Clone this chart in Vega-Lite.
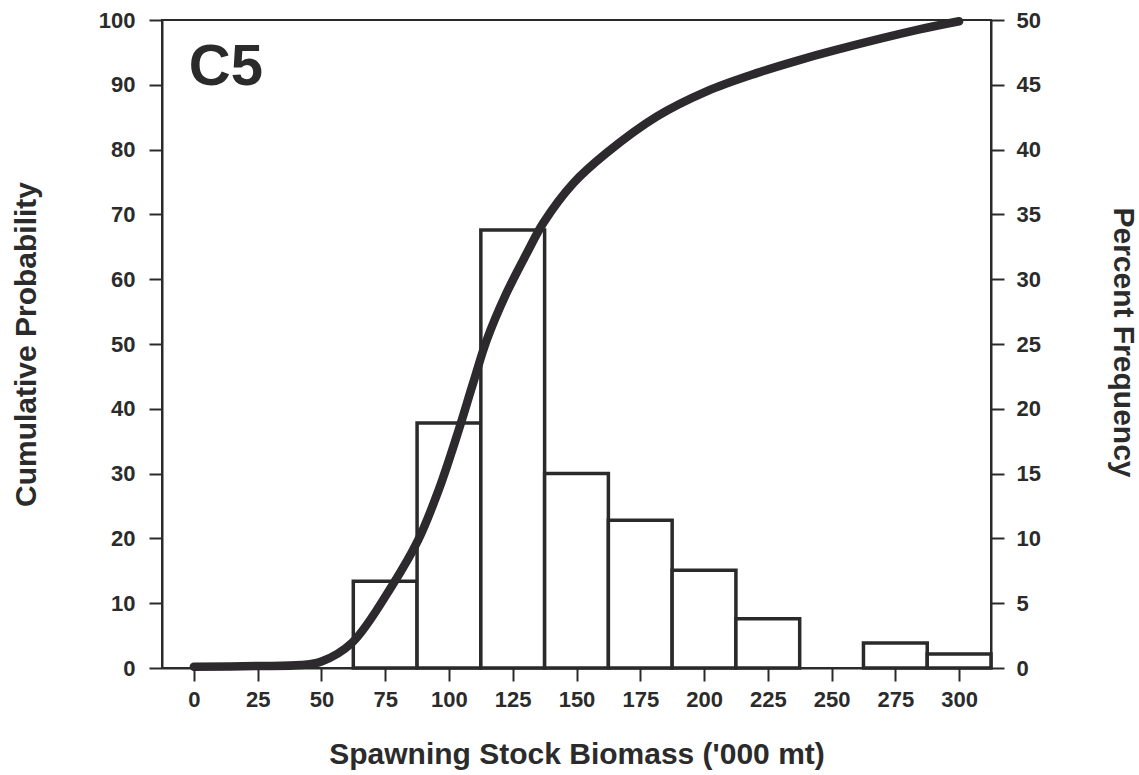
{
  "$schema": "https://vega.github.io/schema/vega-lite/v6.json",
  "width": 829,
  "height": 648,
  "autosize": {"type": "none"},
  "padding": {"left": 162, "top": 20, "right": 148, "bottom": 107},
  "background": "white",
  "config": {
    "view": {"stroke": "#2a2a2a", "strokeWidth": 2},
    "font": "Liberation Sans",
    "axis": {
      "labelFont": "Liberation Sans",
      "titleFont": "Liberation Sans",
      "labelFontWeight": "bold",
      "titleFontWeight": "bold",
      "labelColor": "#2b2b2b",
      "titleColor": "#2b2b2b",
      "labelFontSize": 22,
      "titleFontSize": 30,
      "domainColor": "#2a2a2a",
      "domainWidth": 2,
      "tickColor": "#2a2a2a",
      "tickWidth": 2,
      "tickSize": 13,
      "grid": false
    }
  },
  "datasets": {
    "hist": [
      {"bin_start": 62.5, "bin_end": 87.5, "percent": 6.7},
      {"bin_start": 87.5, "bin_end": 112.5, "percent": 18.9},
      {"bin_start": 112.5, "bin_end": 137.5, "percent": 33.8},
      {"bin_start": 137.5, "bin_end": 162.5, "percent": 15.0},
      {"bin_start": 162.5, "bin_end": 187.5, "percent": 11.4},
      {"bin_start": 187.5, "bin_end": 212.5, "percent": 7.55},
      {"bin_start": 212.5, "bin_end": 237.5, "percent": 3.8},
      {"bin_start": 262.5, "bin_end": 287.5, "percent": 1.93},
      {"bin_start": 287.5, "bin_end": 312.5, "percent": 1.08}
    ],
    "cdf": [
      {"biomass": 0, "cum": 0.2},
      {"biomass": 25, "cum": 0.3},
      {"biomass": 42, "cum": 0.45},
      {"biomass": 50, "cum": 1.0},
      {"biomass": 62, "cum": 3.9},
      {"biomass": 78, "cum": 12.9},
      {"biomass": 88, "cum": 19.8},
      {"biomass": 96, "cum": 27.5},
      {"biomass": 103, "cum": 35.7},
      {"biomass": 109.5, "cum": 44},
      {"biomass": 114.8, "cum": 50.6},
      {"biomass": 122.6, "cum": 57.9},
      {"biomass": 130.5, "cum": 64},
      {"biomass": 137, "cum": 68.7},
      {"biomass": 148.7, "cum": 74.8},
      {"biomass": 161.8, "cum": 79.5},
      {"biomass": 181.4, "cum": 85.1},
      {"biomass": 201, "cum": 89},
      {"biomass": 220.6, "cum": 91.8},
      {"biomass": 236.3, "cum": 93.7},
      {"biomass": 251, "cum": 95.3},
      {"biomass": 284, "cum": 98.5},
      {"biomass": 300, "cum": 99.8}
    ],
    "label": [
      {"biomass": -2, "cum": 90, "text": "C5"}
    ]
  },
  "layer": [
    {
      "data": {"name": "hist"},
      "mark": {"type": "bar", "fill": "white", "stroke": "#2a2a2a", "strokeWidth": 3.5},
      "encoding": {
        "x": {
          "field": "bin_start",
          "type": "quantitative",
          "scale": {"domain": [-12.5, 312.5], "nice": false, "zero": false},
          "axis": {
            "values": [0, 25, 50, 75, 100, 125, 150, 175, 200, 225, 250, 275, 300],
            "labelPadding": 8,
            "labelFlush": false,
            "title": "Spawning Stock Biomass ('000 mt)",
            "titleBaseline": "alphabetic",
            "titleY": 95
          }
        },
        "x2": {"field": "bin_end"},
        "y": {
          "field": "percent",
          "type": "quantitative",
          "scale": {"domain": [0, 50], "nice": false, "zero": true},
          "axis": {
            "orient": "right",
            "values": [0, 5, 10, 15, 20, 25, 30, 35, 40, 45, 50],
            "labelPadding": 12,
            "title": "Percent Frequency",
            "titleAngle": 90,
            "titleAlign": "center",
            "titleBaseline": "alphabetic",
            "titleX": 122,
            "titleY": 322
          }
        },
        "y2": {"datum": 0}
      }
    },
    {
      "data": {"name": "cdf"},
      "mark": {"type": "line", "color": "#2d2a2d", "strokeWidth": 8.5, "interpolate": "catmull-rom", "strokeCap": "round"},
      "encoding": {
        "x": {"field": "biomass", "type": "quantitative"},
        "y": {
          "field": "cum",
          "type": "quantitative",
          "scale": {"domain": [0, 100], "nice": false},
          "axis": {
            "orient": "left",
            "values": [0, 10, 20, 30, 40, 50, 60, 70, 80, 90, 100],
            "labelPadding": 14,
            "title": "Cumulative Probability",
            "titleAngle": -90,
            "titleAlign": "center",
            "titleBaseline": "alphabetic",
            "titleX": -127,
            "titleY": 324
          }
        }
      }
    },
    {
      "data": {"name": "label"},
      "mark": {"type": "text", "font": "Liberation Sans", "fontWeight": "bold", "fontSize": 58, "align": "left", "baseline": "alphabetic", "color": "#2b2b2b"},
      "encoding": {
        "x": {"field": "biomass", "type": "quantitative"},
        "y": {"field": "cum", "type": "quantitative", "scale": {"domain": [0, 100], "nice": false}, "axis": null},
        "text": {"field": "text"}
      }
    }
  ],
  "resolve": {"scale": {"y": "independent"}}
}
